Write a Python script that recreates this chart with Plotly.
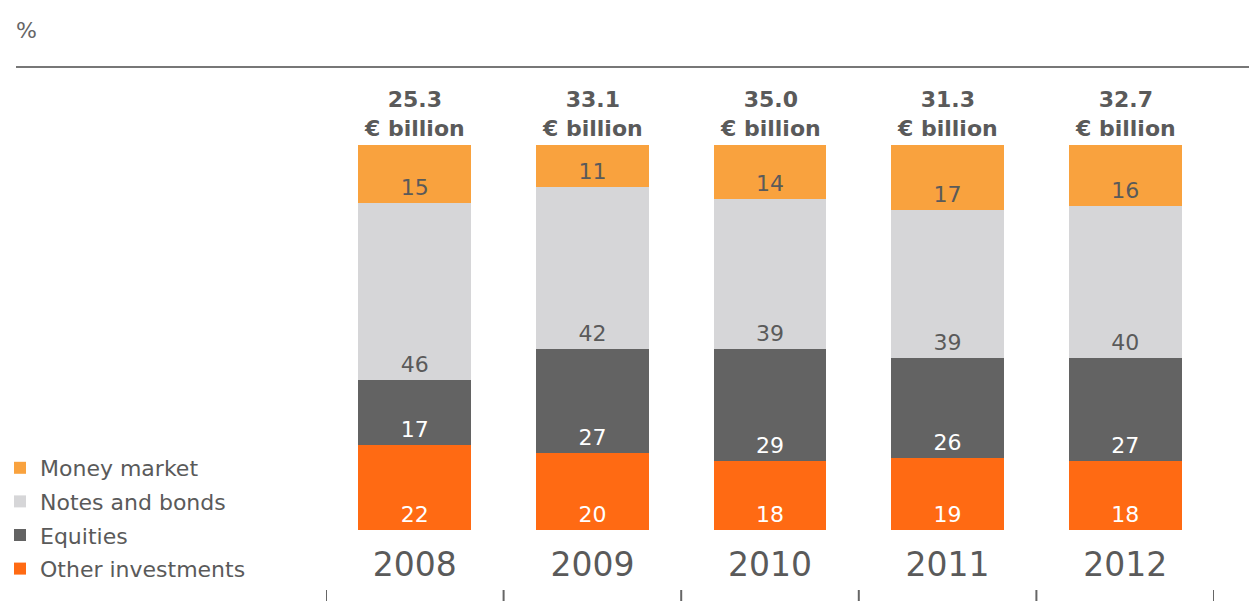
import plotly.graph_objects as go

years = ["2008", "2009", "2010", "2011", "2012"]
money_market = [15, 11, 14, 17, 16]
notes_bonds = [46, 42, 39, 39, 40]
equities = [17, 27, 29, 26, 27]
other_inv = [22, 20, 18, 19, 18]
totals = ["25.3", "33.1", "35.0", "31.3", "32.7"]

OFF = 8  # default page body margin
W, H = 1257 - OFF, 601 - OFF
FONT = "DejaVu Sans"
GREY_TXT = "#5a5a5a"


def px(p):
    return (p - OFF) / W


def py(p):
    return 1 - (p - OFF) / H


series = [
    ("Other investments", other_inv, "#FF6A13", "white", 4),
    ("Equities", equities, "#636363", "white", 3),
    ("Notes and bonds", notes_bonds, "#D6D6D8", GREY_TXT, 2),
    ("Money market", money_market, "#F9A23E", GREY_TXT, 1),
]

fig = go.Figure()
for name, vals, col, tcol, rank in series:
    fig.add_trace(go.Bar(
        x=years, y=vals, name=name, legendgroup=name, legendrank=rank,
        marker=dict(color=col, line=dict(width=0)),
        text=[str(v) for v in vals], textposition="inside",
        insidetextanchor="start", constraintext="none",
        textfont=dict(family=FONT, size=22, color=tcol),
        hovertemplate="%{x}: %{y}%<extra>" + name + "</extra>",
    ))

fig.update_layout(
    width=W, height=H,
    margin=dict(l=0, r=0, t=0, b=0, autoexpand=False),
    paper_bgcolor="white", plot_bgcolor="white",
    barmode="stack", barnorm="percent", bargap=0.364,
    font=dict(family=FONT, color=GREY_TXT),
    xaxis=dict(type="category", domain=[px(326), px(1214)], range=[-0.5, len(years) - 0.5],
               showgrid=False, showline=False, zeroline=False, automargin=False,
               ticks="", tickfont=dict(family=FONT, size=33, color=GREY_TXT),
               ticklabelstandoff=12, fixedrange=True),
    yaxis=dict(domain=[py(530), py(145)], range=[0, 100], visible=False, fixedrange=True),
    legend=dict(x=px(0), xanchor="left", y=py(590), yanchor="bottom",
                traceorder="grouped", tracegroupgap=2,
                font=dict(family=FONT, size=22, color=GREY_TXT),
                bgcolor="rgba(0,0,0,0)", itemclick=False, itemdoubleclick=False),
    showlegend=True,
)

# totals above bars
for i, tot in enumerate(totals):
    fig.add_annotation(x=i, xref="x", y=py(143), yref="paper", yanchor="bottom",
                       text=f"<b>{tot}<br>€ billion</b>", showarrow=False,
                       font=dict(family=FONT, size=22, color=GREY_TXT), align="center")

# % label and top rule
fig.add_annotation(x=px(14), y=py(30), xref="paper", yref="paper", xanchor="left",
                   yanchor="middle", text="%", showarrow=False,
                   font=dict(family=FONT, size=22, color="#666"))
fig.add_shape(type="line", xref="paper", yref="paper", x0=px(16), x1=1, y0=py(67), y1=py(67),
              line=dict(color="#777777", width=2))

# category boundary tick marks at bottom
for i in range(len(years) + 1):
    fig.add_shape(type="line", xref="x", yref="paper", x0=i - 0.5, x1=i - 0.5,
                  y0=0, y1=py(590), line=dict(color="#666666", width=2))

fig.write_html("out.html")
